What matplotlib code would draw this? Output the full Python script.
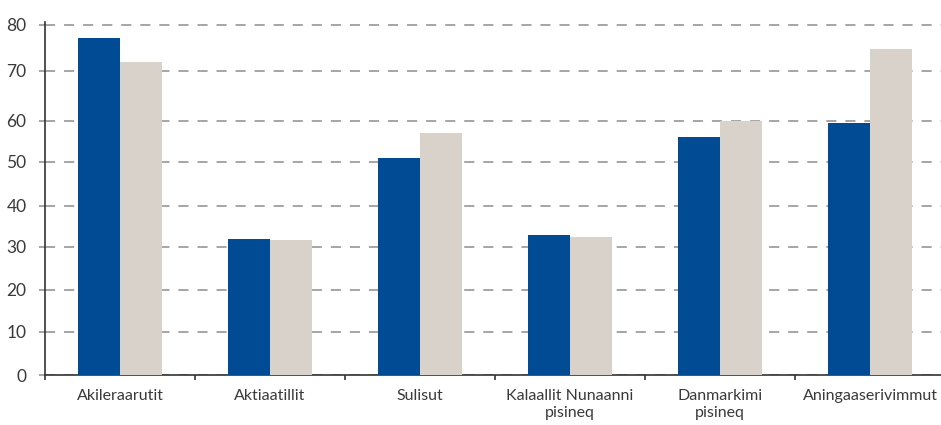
import numpy as np
import matplotlib
matplotlib.use("Agg")
import matplotlib.pyplot as plt
from matplotlib.ticker import FixedLocator, NullFormatter

# ---- data ----
categories = ["Akileraarutit", "Aktiaatillit", "Sulisut",
              "Kalaallit Nunaanni\npisineq", "Danmarkimi\npisineq",
              "Aningaaserivimmut"]
series_blue = [77.2, 32.0, 51.0, 33.0, 56.0, 59.6]
series_gray = [72.0, 31.7, 57.0, 32.4, 60.0, 74.8]
y_ticks = [0, 10, 20, 30, 40, 50, 60, 70, 80]

# ---- style ----
BLUE = "#004B93"
GRAY = "#D9D2CB"
TEXT = "#3a3a3a"

# axis calibration (the reference's vertical axis is slightly non-uniform)
cal_vals = np.array([0, 10, 20, 30, 40, 50, 60, 70, 80, 90])
cal_h = np.array([0, 43, 85, 128, 169, 213, 254, 304, 350, 396], dtype=float)

def fwd(v):
    return np.interp(v, cal_vals, cal_h)

def inv(h):
    return np.interp(h, cal_h, cal_vals)

W, H = 941, 425
fig = plt.figure(figsize=(W / 100, H / 100), dpi=100)
left, bottom, top = 45, 375, 22
ax = fig.add_axes([left / W, (H - bottom) / H, 1 - left / W, (bottom - top) / H])

ax.set_yscale("function", functions=(fwd, inv))

x = np.arange(len(categories))
bw = 0.277
ax.bar(x - bw / 2, series_blue, width=bw, color=BLUE, zorder=3)
ax.bar(x + bw / 2, series_gray, width=bw, color=GRAY, zorder=3)

ax.set_xlim(-0.5, (W - left) / 150 - 0.5)
ax.set_ylim(0, 80.65)

ax.yaxis.set_major_locator(FixedLocator(y_ticks))
ax.set_yticklabels([str(t) for t in y_ticks])
ax.yaxis.set_minor_locator(FixedLocator([]))
ax.grid(axis="y", color="#A5A5A5", linestyle=(0, (5.2, 4.6)), linewidth=1.4, zorder=1)
ax.tick_params(axis="y", which="major", length=4.3, width=1.4, color="#A5A5A5",
               pad=9, labelsize=12.5, labelcolor=TEXT)

ax.xaxis.set_major_locator(FixedLocator(x))
ax.set_xticklabels(categories)
ax.xaxis.set_minor_locator(FixedLocator(np.arange(-0.5, len(categories) - 0.4, 1.0)))
ax.xaxis.set_minor_formatter(NullFormatter())
ax.tick_params(axis="x", which="major", length=0, pad=10, labelsize=11.5, labelcolor=TEXT)
ax.tick_params(axis="x", which="minor", length=3.6, width=1.2, color="#333333")

for lab in ax.get_xticklabels() + ax.get_yticklabels():
    lab.set_fontfamily(["Lato", "DejaVu Sans"])
    lab.set_fontweight("normal")
    lab.set_color(TEXT)
for lab in ax.get_xticklabels():
    lab.set_linespacing(1.3)

for s in ["top", "right"]:
    ax.spines[s].set_visible(False)
ax.spines["left"].set_color("#333333")
ax.spines["left"].set_linewidth(1.2)
ax.spines["bottom"].set_color("#333333")
ax.spines["bottom"].set_linewidth(1.2)
ax.set_facecolor("none")

fig.savefig("out.png", dpi=100)
